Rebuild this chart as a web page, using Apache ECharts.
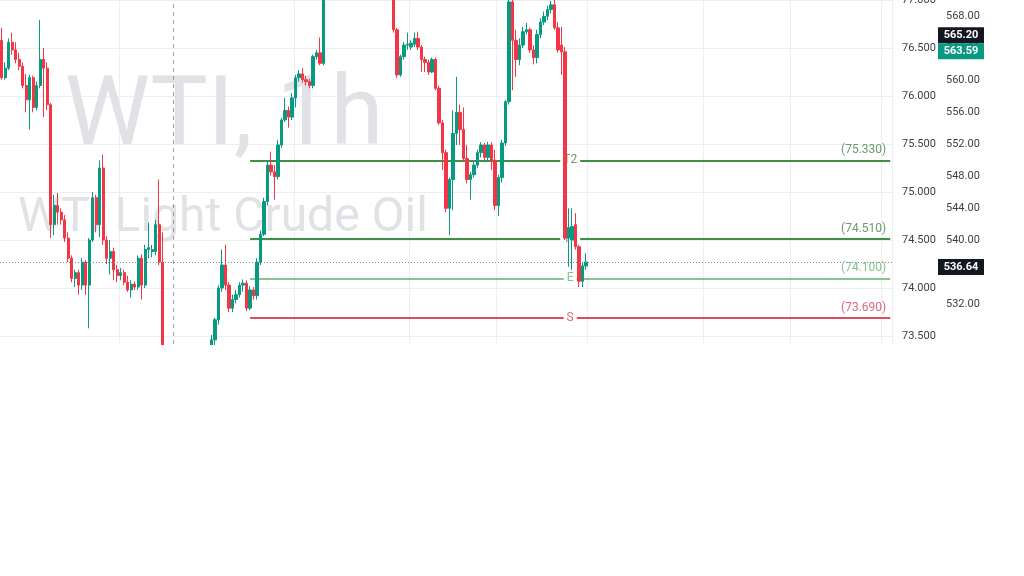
<!DOCTYPE html>
<html><head><meta charset="utf-8">
<script src="https://cdn.jsdelivr.net/npm/echarts@6/dist/echarts.min.js"></script>
<style>html,body{margin:0;padding:0;background:#fff}#c{width:1024px;height:576px}</style>
</head><body><div id="c"></div>
<script>
// hourly candles: [open, close, low, high]
const candles = [
[76.58,76.19,76.17,76.71],[76.19,76.29,76.17,76.35],[76.29,76.56,76.27,76.60],[76.56,76.48,76.43,76.66],
[76.48,76.38,76.34,76.56],[76.38,76.31,76.27,76.45],[76.31,76.11,76.08,76.35],[76.11,75.96,75.83,76.23],
[75.96,76.19,75.65,76.22],[76.19,75.88,75.83,76.21],[75.88,76.11,75.85,76.15],[76.11,76.38,76.08,76.79],
[76.38,76.29,75.78,76.50],[76.29,75.91,75.85,76.35],[75.91,74.66,74.52,75.93],[74.66,74.86,74.55,74.97],
[74.86,74.79,74.66,74.99],[74.79,74.71,74.66,74.83],[74.71,74.52,74.48,74.76],[74.52,74.31,74.27,74.58],
[74.31,74.10,74.06,74.34],[74.10,74.16,74.01,74.19],[74.16,74.03,73.93,74.19],[74.03,74.27,73.98,74.31],
[74.27,74.03,73.93,74.29],[74.03,74.50,73.58,74.52],[74.50,74.94,74.48,75.00],[74.94,74.66,74.58,74.97],
[74.66,75.25,74.53,75.33],[75.25,74.50,74.45,75.39],[74.50,74.31,74.25,74.54],[74.31,74.38,74.14,74.50],
[74.38,74.19,74.08,74.42],[74.19,74.13,74.06,74.24],[74.13,74.16,74.08,74.21],[74.16,74.06,74.03,74.19],
[74.06,73.98,73.96,74.13],[73.98,74.04,73.90,74.08],[74.04,74.01,73.98,74.07],[74.01,74.31,73.98,74.34],
[74.31,74.03,73.88,74.35],[74.03,74.40,74.00,74.45],[74.40,74.42,74.31,74.68],[74.38,74.40,74.32,74.45],
[74.38,74.66,74.34,74.71],[74.66,74.27,74.24,75.13],[74.27,73.25,73.15,74.58],[73.25,73.18,73.10,73.30],
[73.18,73.22,73.12,73.28],[73.22,73.10,73.05,73.26],[73.10,73.02,72.95,73.15],[73.02,73.08,72.98,73.12],
[73.08,72.98,72.92,73.12],[72.98,73.05,72.93,73.10],[73.05,73.12,73.00,73.18],[73.12,73.07,73.02,73.20],
[73.07,73.15,73.03,73.22],[73.15,73.20,73.10,73.28],[73.20,73.14,73.08,73.30],[73.14,73.22,73.10,73.30],
[73.22,73.46,73.18,73.51],[73.46,73.67,73.40,73.69],[73.67,74.00,73.62,74.03],[74.00,74.24,73.96,74.40],
[74.24,74.03,73.98,74.45],[74.03,73.79,73.75,74.06],[73.79,73.88,73.75,73.93],[73.88,73.93,73.84,73.98],
[73.93,74.03,73.90,74.06],[74.03,74.05,73.96,74.09],[74.05,73.79,73.76,74.08],[73.79,73.98,73.77,74.02],
[73.98,73.92,73.88,74.01],[73.92,74.27,73.88,74.31],[74.27,74.56,74.24,74.60],[74.56,74.90,74.54,74.94],
[74.90,75.28,74.86,75.33],[75.28,75.21,75.17,75.42],[75.21,75.16,74.92,75.28],[75.16,75.49,75.13,75.54],
[75.49,75.75,75.46,75.77],[75.75,75.85,75.73,75.98],[75.85,75.78,75.67,75.89],[75.78,75.98,75.75,76.03],
[75.98,76.19,75.88,76.22],[76.19,76.23,76.15,76.27],[76.23,76.17,76.14,76.29],[76.17,76.15,76.11,76.21],
[76.15,76.11,76.08,76.18],[76.11,76.41,76.08,76.43],[76.41,76.45,76.38,76.48],[76.45,76.34,76.32,76.61],
[76.34,77.05,76.32,77.15],[77.05,77.18,77.02,77.22],[77.18,77.30,77.12,77.35],[77.30,77.25,77.18,77.38],
[77.25,77.40,77.20,77.45],[77.40,77.52,77.35,77.58],[77.52,77.46,77.40,77.60],[77.46,77.58,77.42,77.65],
[77.58,77.50,77.44,77.62],[77.50,77.62,77.46,77.70],[77.62,77.55,77.48,77.68],[77.55,77.45,77.38,77.60],
[77.45,77.52,77.40,77.58],[77.52,77.40,77.33,77.56],[77.40,77.35,77.28,77.46],[77.35,77.42,77.30,77.48],
[77.42,77.32,77.25,77.46],[77.32,77.38,77.26,77.44],[77.38,77.28,77.20,77.42],[77.28,77.22,77.12,77.32],
[77.22,76.69,76.66,77.25],[76.69,76.22,76.19,76.71],[76.22,76.41,76.20,76.43],[76.41,76.53,76.38,76.56],
[76.53,76.54,76.48,76.66],[76.51,76.55,76.48,76.58],[76.54,76.60,76.51,76.66],[76.60,76.51,76.48,76.67],
[76.51,76.38,76.25,76.53],[76.38,76.35,76.25,76.41],[76.35,76.25,76.22,76.38],[76.25,76.38,76.24,76.40],
[76.38,76.08,76.06,76.40],[76.08,75.72,75.70,76.11],[75.72,75.41,75.23,75.75],[75.41,74.83,74.79,75.44],
[74.83,75.13,74.55,75.15],[75.13,75.61,74.81,75.85],[75.61,75.83,75.49,76.20],[75.83,75.65,75.49,75.91],
[75.65,75.35,75.31,75.88],[75.35,75.13,75.09,75.49],[75.13,75.18,74.92,75.21],[75.18,75.28,75.15,75.31],
[75.28,75.41,75.25,75.44],[75.41,75.49,75.36,75.52],[75.49,75.36,75.33,75.51],[75.36,75.49,75.33,75.52],
[75.49,75.33,75.23,75.52],[75.33,74.86,74.81,75.44],[74.86,75.15,74.75,75.18],[75.15,75.51,75.10,75.54],
[75.51,75.94,75.48,75.96],[75.94,76.98,75.91,77.10],[76.98,76.58,76.06,77.05],[76.58,76.38,76.20,76.69],
[76.38,76.53,76.32,76.60],[76.53,76.67,76.50,76.72],[76.67,76.69,76.64,76.76],[76.69,76.48,76.45,76.71],
[76.48,76.40,76.33,76.53],[76.40,76.64,76.34,76.69],[76.64,76.77,76.60,76.81],[76.77,76.83,76.74,76.88],
[76.83,76.90,76.79,76.94],[76.90,76.95,76.86,76.99],[76.95,76.71,76.69,77.02],[76.71,76.48,76.45,76.77],
[76.53,76.46,76.22,76.72],[76.46,74.52,74.50,76.51],[74.52,74.63,74.22,74.83],[74.50,74.64,74.19,74.83],
[74.66,74.43,74.40,74.78],[74.43,74.07,74.01,74.45],[74.07,74.23,74.01,74.27],[74.23,74.27,74.19,74.36]
];
const futureSlots = 87;                 // empty hourly slots to the right of the last bar
const categories = [];
for (let i = 0; i < candles.length + futureSlots; i++) categories.push('bar' + i);

const leftTicks = { min: 73.0, max: 77.0, interval: 0.5 };
const rightTicks = { min: 532, max: 568, interval: 4 };
const levelValues = [75.33, 74.51, 74.10, 73.69];
const levelNames = ['T2', 'T1', 'E', 'S'];
const levelStartBar = 71;
const sessionBreakBar = 49;
const gridBars = [34, 84, 117, 142, 168, 201, 226, 252];
const rightTagValues = [565.20, 563.59, 536.64];
const lastClose = candles[candles.length - 1][1];

const UP = '#089981', DOWN = '#f23645';
const levelLine = ['#3f8f46', '#3f8f46', '#62b266', '#e2495f'];
const levelLabel = ['#6a9a6d', '#6a9a6d', '#86c48a', '#e0657d'];
const levelWidth = [2, 2, 1.5, 2];
const FONT = 'Roboto, "Liberation Sans", sans-serif';

const lastCat = categories[categories.length - 1];
const levelMarks = [];
levelValues.forEach((v, k) => {
  const ls = { color: levelLine[k], width: levelWidth[k], type: 'solid' };
  const midLabel = { show: true, position: 'insideMiddle', formatter: levelNames[k], color: levelLabel[k],
    fontSize: 12, fontFamily: FONT, backgroundColor: '#ffffff', padding: [1, 3] };
  levelMarks.push([
    { coord: [categories[levelStartBar], v], lineStyle: ls, label: midLabel },
    { coord: [lastCat, v], lineStyle: ls, label: midLabel }
  ]);
  const endLabel = { show: true, position: 'insideEndTop', formatter: '(' + v.toFixed(3) + ')',
    color: levelLabel[k], fontSize: 12, fontFamily: FONT, distance: 4 };
  const hid = { color: 'rgba(0,0,0,0)', width: 1, opacity: 1 };
  levelMarks.push([
    { coord: [categories[levelStartBar], v], lineStyle: hid, label: endLabel },
    { coord: [lastCat, v], lineStyle: hid, label: endLabel }
  ]);
});

const chart = echarts.init(document.getElementById('c'), null, { renderer: 'canvas' });
chart.setOption({
  animation: false,
  backgroundColor: '#ffffff',
  grid: [
    { left: 0, right: 132, top: 0, height: 384, containLabel: false, outerBoundsMode: 'none' },
    { left: 0, right: 132, top: 16, height: 288, containLabel: false, outerBoundsMode: 'none' }
  ],
  xAxis: [
    { type: 'category', data: categories, boundaryGap: true, gridIndex: 0,
      axisLine: { show: false }, axisTick: { show: false }, axisLabel: { show: false },
      splitLine: { show: true, interval: (idx) => gridBars.indexOf(idx) >= 0, lineStyle: { color: '#eceef2', width: 1 } } },
    { type: 'value', gridIndex: 1, show: false, min: 0, max: 1 }
  ],
  yAxis: [
    { type: 'value', gridIndex: 0, position: 'right', min: leftTicks.min, max: leftTicks.max, interval: leftTicks.interval,
      axisLine: { show: false }, axisTick: { show: false },
      axisLabel: { color: '#3b3f48', fontSize: 11, fontFamily: FONT, margin: 10, formatter: v => v.toFixed(3) },
      splitLine: { show: true, lineStyle: { color: '#eceef2', width: 1 } } },
    { type: 'value', gridIndex: 1, position: 'right', offset: 44, min: rightTicks.min, max: rightTicks.max, interval: rightTicks.interval,
      axisLine: { show: false }, axisTick: { show: false }, splitLine: { show: false },
      axisLabel: { color: '#3b3f48', fontSize: 11, fontFamily: FONT, margin: 10, formatter: v => v.toFixed(2) } }
  ],
  series: [
    { type: 'line', xAxisIndex: 0, yAxisIndex: 0, data: [], z: 1, silent: true,
      markLine: { z: 1, silent: true, symbol: ['none', 'none'], animation: false, data: levelMarks } },
    { type: 'candlestick', xAxisIndex: 0, yAxisIndex: 0, data: candles, z: 3, barWidth: 2.8, clip: true,
      itemStyle: { color: UP, color0: DOWN, borderColor: UP, borderColor0: DOWN, borderWidth: 1 },
      markLine: { silent: true, symbol: ['none', 'none'], animation: false, label: { show: false },
        data: [
          { yAxis: lastClose, lineStyle: { color: '#7f8c98', type: [1, 2], width: 1 } },
          { xAxis: categories[sessionBreakBar], lineStyle: { color: '#9aa0a6', type: [4, 4], width: 1 } }
        ] } }
  ]
});

const tagY = rightTagValues.map(v => chart.convertToPixel({ yAxisIndex: 1 }, v));
if (tagY[0] > tagY[1] - 16) tagY[0] = tagY[1] - 16;
const tagBg = ['#131722', UP, '#131722'];
const tags = [];
rightTagValues.forEach((v, k) => {
  tags.push({ type: 'rect', z: 101, shape: { x: 938, y: tagY[k] - 8, width: 46, height: 16 }, style: { fill: tagBg[k] } });
  tags.push({ type: 'text', z: 102, style: { text: v.toFixed(2), x: 961, y: tagY[k], fill: '#ffffff',
    font: 'bold 11px ' + FONT, textAlign: 'center', textVerticalAlign: 'middle' } });
});
chart.setOption({
  graphic: [
    { type: 'text', z: 0, silent: true, style: { text: 'WTI, 1h', x: 224, y: 120, fill: '#e1e2e5',
      font: '96px ' + FONT, textAlign: 'center', textVerticalAlign: 'middle' } },
    { type: 'text', z: 0, silent: true, style: { text: 'WTI Light Crude Oil', x: 223, y: 219, fill: '#e1e2e5',
      font: '48px ' + FONT, textAlign: 'center', textVerticalAlign: 'middle' } },
    { type: 'rect', z: 100, silent: true, shape: { x: 0, y: 345, width: 1024, height: 231 }, style: { fill: '#ffffff' } }
  ].concat(tags)
});
</script></body></html>
